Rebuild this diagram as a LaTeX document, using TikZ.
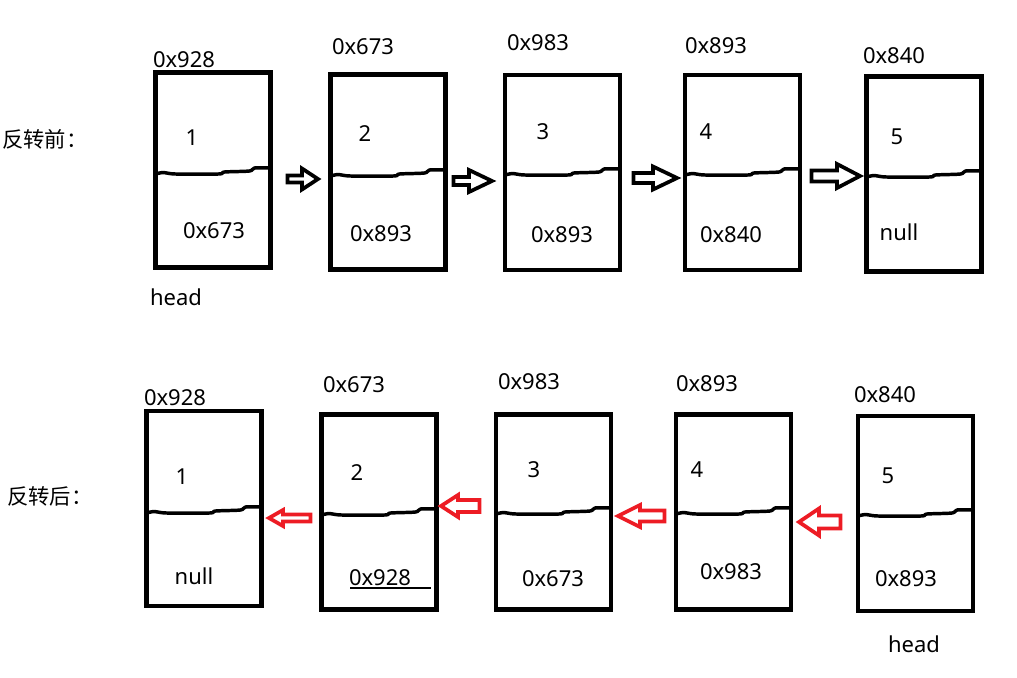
\documentclass[tikz,border=0pt]{standalone}
\usepackage{fontspec}
\setmainfont{Noto Sans}
\newfontfamily\cjk{Noto Sans CJK SC}
\definecolor{arrred}{RGB}{237,28,36}
\newcommand\barrow[7][blk]{%
  \draw[#1] (#2,#4-#6) -- (#5,#4-#6) -- (#5,#4-#7) -- (#3,#4) -- (#5,#4+#7) -- (#5,#4+#6) -- (#2,#4+#6) -- cycle;}
\newcommand\wavy[2]{%
  \draw[wave] plot[smooth, tension=0.5] coordinates {(#1,#2) (#1+8,#2-1.5) (#1+20,#2) (#1+63,#2) (#1+69,#2-2) (#1+94,#2-3) (#1+99,#2-6) (#1+115,#2-6)};}
\begin{document}
\begin{tikzpicture}[x=0.75pt,y=-0.75pt,
  box/.style={draw, line width=3.4pt, minimum width=86.25pt, minimum height=146.25pt, inner sep=0pt},
  wave/.style={line width=2.6pt, line cap=round, line join=round},
  lbl/.style={font=\fontsize{16.5}{19}\selectfont, inner sep=0pt},
  cj/.style={font=\cjk\fontsize{16}{19}\selectfont, inner sep=0pt, anchor=west},
  blk/.style={draw=black, fill=white, line width=2.8pt, line join=miter},
  rda/.style={draw=arrred, fill=white, line width=2.8pt, line join=miter}]
\useasboundingbox (0,0) rectangle (1017,678);

% ---------- before reversal ----------
\node[cj] (before) at (2,139) {反转前：};
\node[box] (t1) at (213,170) {};
\node[box] (t2) at (388,172) {};
\node[box] (t3) at (562.5,172.5) {};
\node[box] (t4) at (742.5,172.5) {};
\node[box] (t5) at (924,174) {};
\wavy{155.5}{174}
\wavy{330.5}{176}
\wavy{505}{175}
\wavy{685}{175}
\wavy{866.5}{177}

\node[lbl] (ta1) at (184,60) {0x928};
\node[lbl] (ta2) at (363,47) {0x673};
\node[lbl] (ta3) at (538,43) {0x983};
\node[lbl] (ta4) at (716,46) {0x893};
\node[lbl] (ta5) at (894,56) {0x840};
\node[lbl] (td1) at (192,138) {1};
\node[lbl] (td2) at (365,134) {2};
\node[lbl] (td3) at (543,132) {3};
\node[lbl] (td4) at (706,132) {4};
\node[lbl] (td5) at (897,137) {5};
\node[lbl] (tn1) at (214,231) {0x673};
\node[lbl] (tn2) at (381,234) {0x893};
\node[lbl] (tn3) at (562,235) {0x893};
\node[lbl] (tn4) at (731,235) {0x840};
\node[lbl] (tn5) at (899,232) {null};
\node[lbl] (thead) at (176,297) {head};

\barrow{287.5}{318}{179}{302}{3.5}{10.5}
\barrow{453.5}{492}{181}{469}{4}{11}
\barrow{633.5}{677}{178}{653}{5}{11.5}
\barrow{811.5}{860}{176}{837}{5.5}{12}

% ---------- after reversal ----------
\node[cj] (after) at (7,496) {反转后：};
\node[box] (b1) at (204,508.5) {};
\node[box] (b2) at (379,512) {};
\node[box] (b3) at (553.5,512) {};
\node[box] (b4) at (733.5,512) {};
\node[box] (b5) at (915.5,513.5) {};
\wavy{146.5}{513}
\wavy{321.5}{515}
\wavy{496}{514}
\wavy{676}{514}
\wavy{858}{516}

\node[lbl] (ba1) at (175,398) {0x928};
\node[lbl] (ba2) at (354,385) {0x673};
\node[lbl] (ba3) at (529,382) {0x983};
\node[lbl] (ba4) at (707,384) {0x893};
\node[lbl] (ba5) at (885,395) {0x840};
\node[lbl] (bd1) at (182,477) {1};
\node[lbl] (bd2) at (357,473) {2};
\node[lbl] (bd3) at (534,470) {3};
\node[lbl] (bd4) at (697,470) {4};
\node[lbl] (bd5) at (888,476) {5};
\node[lbl] (bn1) at (194,576) {null};
\node[lbl] (bn2) at (380,578) {0x928};
\node[lbl] (bn3) at (553,579) {0x673};
\node[lbl] (bn4) at (731,572) {0x983};
\node[lbl] (bn5) at (906,579) {0x893};
\node[lbl] (bhead) at (914,644) {head};
\coordinate (ul1) at (350,588);
\coordinate (ul2) at (431,588);
\draw[line width=1.3pt] (ul1) -- (ul2);

\barrow[rda]{310.5}{269}{518}{283}{3.5}{8}
\barrow[rda]{479.5}{441}{506}{458}{6}{11}
\barrow[rda]{664.5}{618}{516}{640}{5.5}{11}
\barrow[rda]{840.5}{799}{522}{819}{6.5}{13.5}
\end{tikzpicture}
\end{document}
